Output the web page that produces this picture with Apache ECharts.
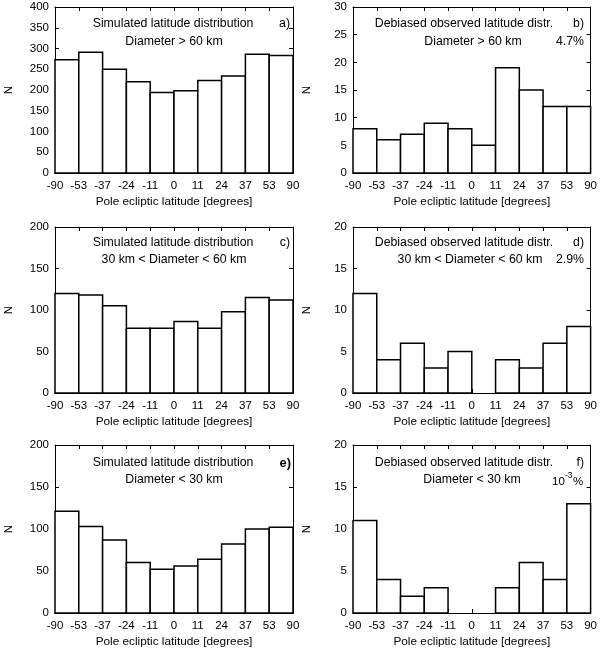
<!DOCTYPE html>
<html><head><meta charset="utf-8">
<script src="https://cdn.jsdelivr.net/npm/echarts@6/dist/echarts.min.js"></script>
<style>html,body{margin:0;padding:0;background:#fff}#c{width:600px;height:650px}</style>
</head><body><div id="c"></div>
<script>
var binEdges = ['-90','-53','-37','-24','-11','0','11','24','37','53','90'];
var simLarge = [273, 291, 250, 220, 194, 198, 223, 234, 286, 283];
var obsLarge = [8, 6, 7, 9, 8, 5, 19, 15, 12, 12];
var simMid = [120, 118, 105, 78, 78, 86, 78, 98, 115, 112];
var obsMid = [12, 4, 6, 3, 5, 0, 4, 3, 6, 8];
var simSmall = [121, 103, 87, 60, 52, 56, 64, 82, 100, 102];
var obsSmall = [11, 4, 2, 3, 0, 0, 3, 6, 4, 13];
var yMax = [400, 30, 200, 20, 200, 20];
var yStep = [50, 5, 50, 5, 50, 5];
var panelData = [simLarge, obsLarge, simMid, obsMid, simSmall, obsSmall];

var FONT = 'Liberation Sans, Arial, sans-serif';
var grids = [
  {left: 55, top: 7, width: 238, height: 166},
  {left: 353, top: 7, width: 239, height: 166},
  {left: 55, top: 227, width: 238, height: 166},
  {left: 353, top: 227, width: 239, height: 166},
  {left: 55, top: 445, width: 238, height: 168},
  {left: 353, top: 445, width: 239, height: 168}
];
var xAxes = [], yAxes = [], series = [];
grids.forEach(function (g, k) {
  xAxes.push({
    type: 'value', gridIndex: k, min: 0, max: 10, interval: 1, position: 'bottom',
    name: 'Pole ecliptic latitude [degrees]', nameLocation: 'middle', nameGap: 23,
    nameTextStyle: {fontFamily: FONT, fontSize: 11.8, color: '#000'},
    axisLine: {show: true, onZero: false, lineStyle: {color: '#000', width: 1}},
    axisTick: {show: true, inside: true, length: 4, lineStyle: {color: '#000'}},
    axisLabel: {fontFamily: FONT, fontSize: 11.5, color: '#000', margin: 7,
      formatter: function (v) { return binEdges[Math.round(v)]; }},
    splitLine: {show: false}
  });
  xAxes.push({
    type: 'value', gridIndex: k, min: 0, max: 10, interval: 1, position: 'top',
    axisLine: {show: true, onZero: false, lineStyle: {color: '#000', width: 1}},
    axisTick: {show: true, inside: true, length: 4, lineStyle: {color: '#000'}},
    axisLabel: {show: false}, splitLine: {show: false}
  });
  yAxes.push({
    type: 'value', gridIndex: k, min: 0, max: yMax[k], interval: yStep[k], position: 'left',
    name: 'N', nameLocation: 'middle', nameGap: 40, nameRotate: 90,
    nameTextStyle: {fontFamily: FONT, fontSize: 11.5, color: '#000'},
    axisLine: {show: true, onZero: false, lineStyle: {color: '#000', width: 1}},
    axisTick: {show: true, inside: true, length: 4, lineStyle: {color: '#000'}},
    axisLabel: {fontFamily: FONT, fontSize: 11.5, color: '#000', margin: 6},
    splitLine: {show: false}
  });
  yAxes.push({
    type: 'value', gridIndex: k, min: 0, max: yMax[k], interval: yStep[k], position: 'right',
    axisLine: {show: true, onZero: false, lineStyle: {color: '#000', width: 1}},
    axisTick: {show: true, inside: true, length: 4, lineStyle: {color: '#000'}},
    axisLabel: {show: false}, splitLine: {show: false}
  });
  series.push({
    type: 'custom', xAxisIndex: 2 * k, yAxisIndex: 2 * k,
    data: panelData[k].map(function (v, i) { return [i, v]; }),
    renderItem: function (params, api) {
      var i = api.value(0), v = api.value(1);
      if (!v) return null;
      var p0 = api.coord([i, v]), p1 = api.coord([i + 1, 0]);
      return {type: 'rect', shape: {x: p0[0], y: p0[1], width: p1[0] - p0[0], height: p1[1] - p0[1]},
        style: {fill: '#fff', stroke: '#000', lineWidth: 1.5}};
    },
    z: 1
  });
});

function txt(x, y, s, align, extra) {
  var o = {type: 'text', x: x, y: y, z: 100,
    style: {text: s, fontFamily: FONT, fontSize: 12.3, fill: '#000', align: align || 'center', verticalAlign: 'middle'}};
  if (extra) for (var k in extra) o.style[k] = extra[k];
  return o;
}
var graphics = [
  txt(173, 24, 'Simulated latitude distribution'), txt(290, 24, 'a)', 'right'),
  txt(174, 42, 'Diameter > 60 km'),
  txt(464, 24, 'Debiased observed latitude distr.'), txt(584, 24, 'b)', 'right'),
  txt(473, 42, 'Diameter > 60 km'), txt(584, 42, '4.7%', 'right'),
  txt(173, 243, 'Simulated latitude distribution'), txt(290, 243, 'c)', 'right'),
  txt(174, 260, '30 km < Diameter < 60 km'),
  txt(464, 243, 'Debiased observed latitude distr.'), txt(584, 243, 'd)', 'right'),
  txt(470, 260, '30 km < Diameter < 60 km'), txt(584, 260, '2.9%', 'right'),
  txt(173, 463, 'Simulated latitude distribution'), txt(291, 463, 'e)', 'right', {fontWeight: 'bold', fontSize: 13}),
  txt(174, 480, 'Diameter < 30 km'),
  txt(464, 463, 'Debiased observed latitude distr.'), txt(584, 463, 'f)', 'right'),
  txt(472, 480, 'Diameter < 30 km'),
  txt(552, 482, '10', 'left', {fontSize: 11.5}),
  txt(565, 476, '-3', 'left', {fontSize: 8.5}),
  txt(573, 482, '%', 'left', {fontSize: 11.5})
];

var chart = echarts.init(document.getElementById('c'), null, {renderer: 'canvas'});
chart.setOption({
  animation: false,
  backgroundColor: '#fff',
  grid: grids,
  xAxis: xAxes,
  yAxis: yAxes,
  series: series,
  graphic: graphics
});
</script></body></html>
